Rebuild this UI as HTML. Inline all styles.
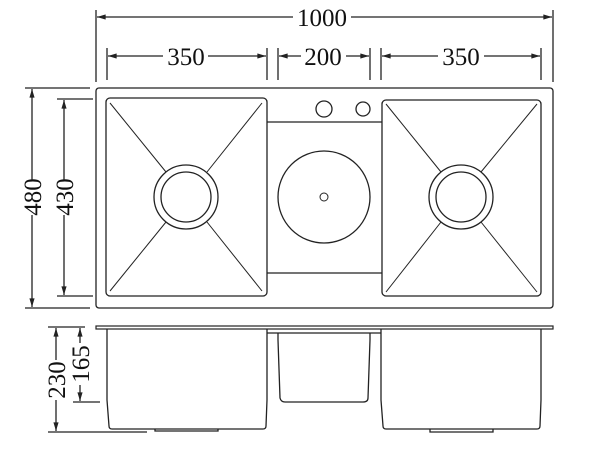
<!DOCTYPE html>
<html><head><style>html,body{margin:0;padding:0;background:#fff}svg{display:block}</style></head>
<body>
<svg width="600" height="450" viewBox="0 0 600 450" xmlns="http://www.w3.org/2000/svg" fill="none" stroke="#222" stroke-width="1.3">
<defs>
<marker id="a" viewBox="0 0 10 6" refX="10" refY="3" markerWidth="7" markerHeight="4" orient="auto-start-reverse"><path d="M0,0L10,3L0,6z" fill="#222" stroke="none"/></marker>
</defs>
<!-- top dims -->
<line x1="96" y1="10" x2="96" y2="82"/><line x1="553" y1="10" x2="553" y2="82"/>
<line x1="97" y1="17" x2="293" y2="17" marker-start="url(#a)"/><line x1="351" y1="17" x2="552" y2="17" marker-end="url(#a)"/>
<line x1="107" y1="48" x2="107" y2="80"/><line x1="267" y1="48" x2="267" y2="80"/>
<line x1="278" y1="48" x2="278" y2="80"/><line x1="370" y1="48" x2="370" y2="80"/>
<line x1="381" y1="48" x2="381" y2="80"/><line x1="541" y1="48" x2="541" y2="80"/>
<line x1="108" y1="56" x2="163" y2="56" marker-start="url(#a)"/><line x1="208" y1="56" x2="266" y2="56" marker-end="url(#a)"/>
<line x1="279" y1="56" x2="301" y2="56" marker-start="url(#a)"/><line x1="346" y1="56" x2="369" y2="56" marker-end="url(#a)"/>
<line x1="382" y1="56" x2="438" y2="56" marker-start="url(#a)"/><line x1="484" y1="56" x2="540" y2="56" marker-end="url(#a)"/>
<g fill="#111" stroke="none" font-family="Liberation Serif, serif" font-size="25" text-anchor="middle">
<text x="322" y="26">1000</text><text x="186" y="65">350</text><text x="323" y="65">200</text><text x="461" y="65">350</text>
<text transform="translate(41,197) rotate(-90)">480</text>
<text transform="translate(73,197) rotate(-90)">430</text>
<text transform="translate(65,380) rotate(-90)">230</text>
<text transform="translate(89,364) rotate(-90)">165</text>
</g>
<!-- left dims -->
<line x1="25" y1="88" x2="90" y2="88"/><line x1="25" y1="308" x2="90" y2="308"/>
<line x1="57" y1="99" x2="93" y2="99"/><line x1="57" y1="296" x2="93" y2="296"/>
<line x1="32" y1="89" x2="32" y2="180" marker-start="url(#a)"/><line x1="32" y1="215" x2="32" y2="307" marker-end="url(#a)"/>
<line x1="64" y1="100" x2="64" y2="180" marker-start="url(#a)"/><line x1="64" y1="215" x2="64" y2="295" marker-end="url(#a)"/>
<line x1="48" y1="327" x2="85" y2="327"/><line x1="48" y1="432" x2="147" y2="432"/><line x1="73" y1="402" x2="100" y2="402"/>
<line x1="56" y1="328" x2="56" y2="360" marker-start="url(#a)"/><line x1="56" y1="400" x2="56" y2="431" marker-end="url(#a)"/>
<line x1="80" y1="328" x2="80" y2="343" marker-start="url(#a)"/><line x1="80" y1="385" x2="80" y2="401" marker-end="url(#a)"/>
<!-- top view -->
<rect x="96" y="88" width="457" height="220" rx="3"/>
<rect x="106" y="98" width="161" height="198" rx="4"/>
<rect x="382" y="100" width="159" height="196" rx="4"/>
<polyline points="267,122 382,122"/><polyline points="267,273 382,273"/>
<circle cx="324" cy="109" r="8"/><circle cx="363" cy="109" r="7"/>
<circle cx="324" cy="197" r="46"/>
<circle cx="324" cy="197" r="4" stroke-width="1"/>
<circle cx="186" cy="197" r="32"/><circle cx="186" cy="197" r="25"/>
<circle cx="461" cy="197" r="32"/><circle cx="461" cy="197" r="25"/>
<g stroke-width="1">
<line x1="110" y1="103" x2="166" y2="172"/><line x1="262" y1="103" x2="207" y2="172"/>
<line x1="110" y1="291" x2="166" y2="222"/><line x1="262" y1="291" x2="207" y2="222"/>
<line x1="386" y1="104" x2="441" y2="172"/><line x1="537" y1="104" x2="481" y2="172"/>
<line x1="386" y1="292" x2="441" y2="222"/><line x1="537" y1="292" x2="481" y2="222"/>
</g>
<!-- front view -->
<rect x="96" y="326" width="457" height="3" stroke-width="1.2"/>
<line x1="267" y1="333" x2="381" y2="333"/>
<path d="M107,329 L107,400 L109,426 Q109,429 112,429 L263,429 Q266,429 266,426 L267,400 L267,329"/>
<path d="M155,429 L155,431 L218,431 L218,429"/>
<path d="M278,333 L278,340 L280,398 Q281,402 285,402 L363,402 Q368,402 368,398 L370,340 L370,333"/>
<path d="M381,329 L381,400 L383,426 Q383,429 386,429 L537,429 Q540,429 540,426 L541,400 L541,329"/>
<path d="M430,429 L430,432 L493,432 L493,429"/>
</svg>
</body></html>
